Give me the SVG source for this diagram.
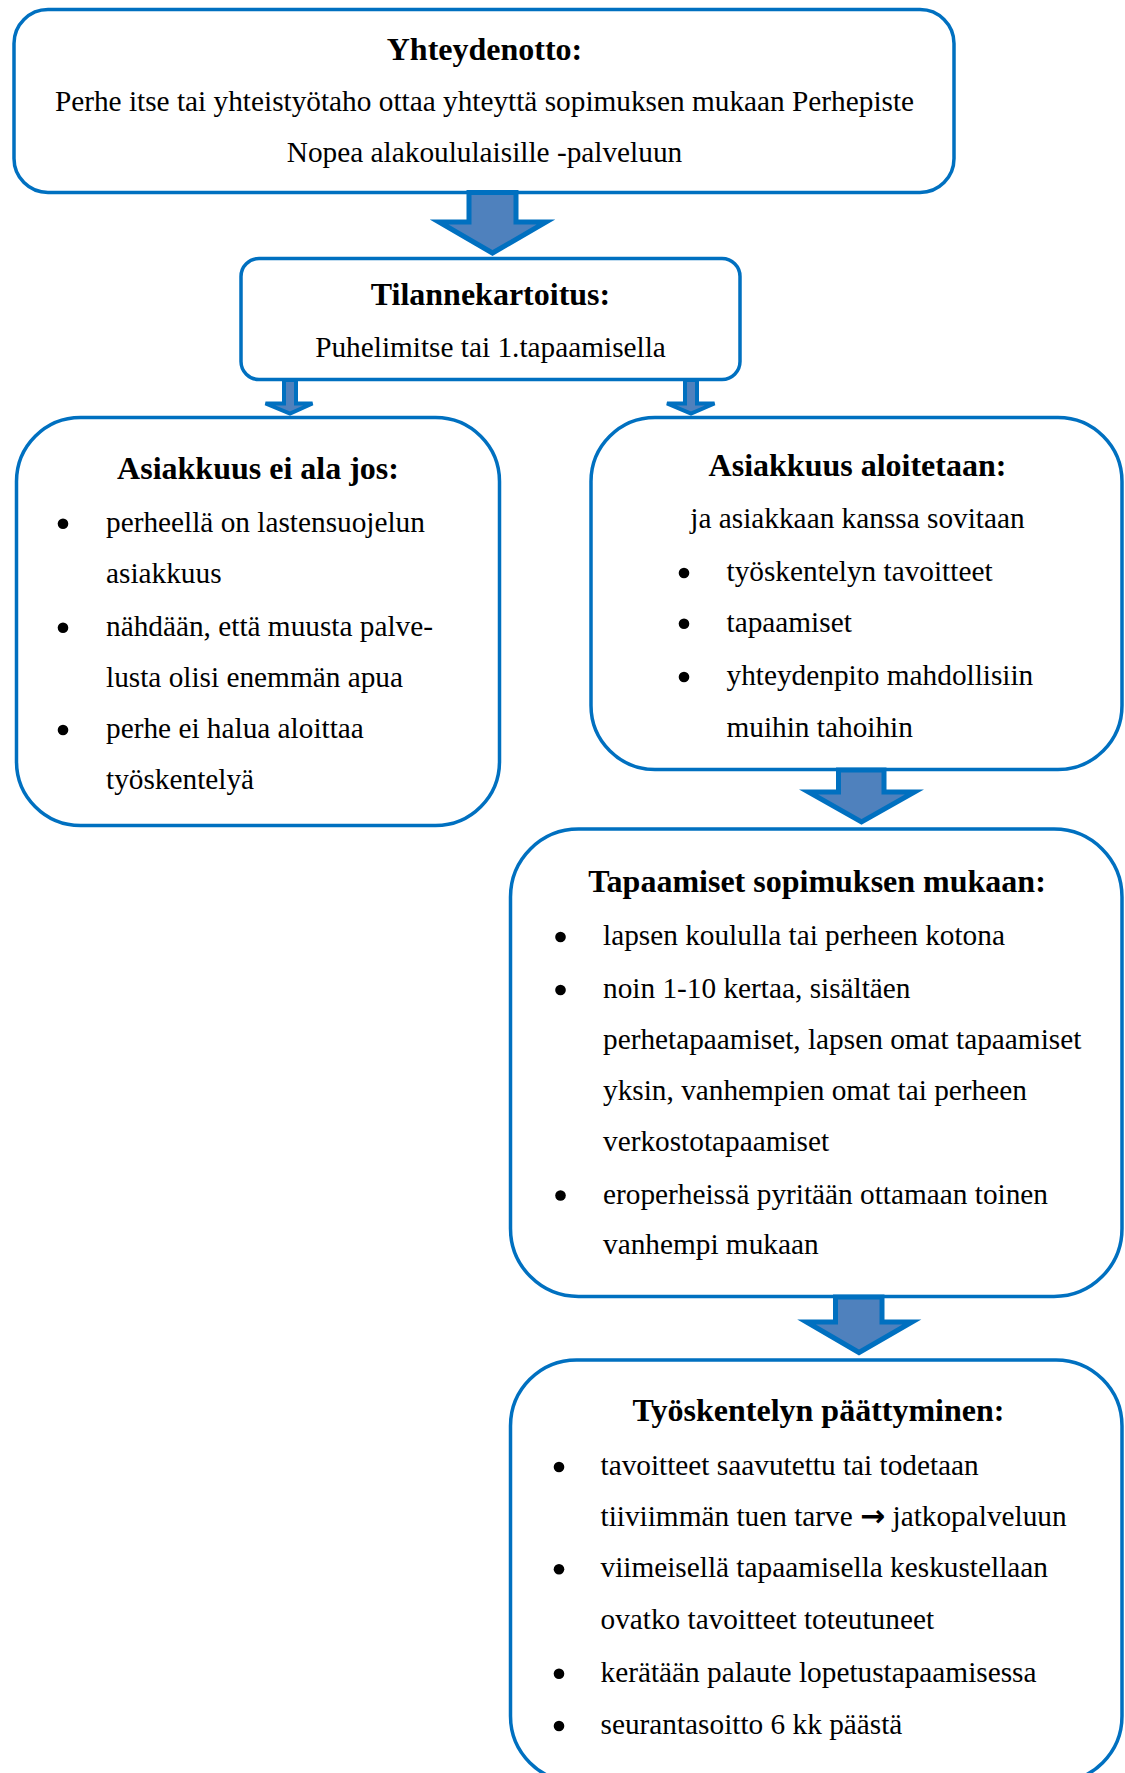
<svg xmlns="http://www.w3.org/2000/svg" width="1125" height="1773" viewBox="0 0 1125 1773">
<style>
.box{fill:#FFFFFF;stroke:#0070C0;stroke-width:3.5}
.t{font-family:"Liberation Serif","Times New Roman",serif;font-size:32px;font-weight:bold;fill:#000;text-anchor:middle}
.b{font-family:"Liberation Serif","Times New Roman",serif;font-size:29.3px;fill:#000}
.c{text-anchor:middle}
.dot{fill:#000}
.arr{fill:#4F81BD;stroke:#0070C0;stroke-width:5;stroke-linejoin:miter}
.arrs{fill:#4F81BD;stroke:#0070C0;stroke-width:4;stroke-linejoin:miter}
</style>
<rect width="1125" height="1773" fill="#FFFFFF"/>

<g id="yhteydenotto">
<rect class="box" x="14" y="9.5" width="940" height="183" rx="34"/>
<text class="t" x="484.5" y="59.5">Yhteydenotto:</text>
<text class="b c" x="484.5" y="110.7">Perhe itse tai yhteistyötaho ottaa yhteyttä sopimuksen mukaan Perhepiste</text>
<text class="b c" x="484.5" y="161.7">Nopea alakoululaisille -palveluun</text>
</g>

<g id="tilannekartoitus">
<rect class="box" x="241" y="258.5" width="499" height="121" rx="18"/>
<text class="t" x="490.5" y="305">Tilannekartoitus:</text>
<text class="b c" x="490.5" y="357.3">Puhelimitse tai 1.tapaamisella</text>
</g>

<g id="asiakkuus-ei-ala">
<rect class="box" x="16.5" y="417.5" width="483" height="408" rx="64"/>
<text class="t" x="258" y="479">Asiakkuus ei ala jos:</text>
<circle class="dot" cx="63" cy="523.7" r="5.3"/>
<text class="b" x="106" y="531.7">perheellä on lastensuojelun</text>
<text class="b" x="106" y="582.7">asiakkuus</text>
<circle class="dot" cx="63" cy="627.7" r="5.3"/>
<text class="b" x="106" y="635.7">nähdään, että muusta palve-</text>
<text class="b" x="106" y="686.7">lusta olisi enemmän apua</text>
<circle class="dot" cx="63" cy="730" r="5.3"/>
<text class="b" x="106" y="738">perhe ei halua aloittaa</text>
<text class="b" x="106" y="789">työskentelyä</text>
</g>

<g id="asiakkuus-aloitetaan">
<rect class="box" x="591" y="417.5" width="531" height="352" rx="64"/>
<text class="t" x="857.5" y="476">Asiakkuus aloitetaan:</text>
<text class="b c" x="857.5" y="527.7">ja asiakkaan kanssa sovitaan</text>
<circle class="dot" cx="684" cy="573" r="5.3"/>
<text class="b" x="726.5" y="581">työskentelyn tavoitteet</text>
<circle class="dot" cx="684" cy="623.7" r="5.3"/>
<text class="b" x="726.5" y="631.7">tapaamiset</text>
<circle class="dot" cx="684" cy="677" r="5.3"/>
<text class="b" x="726.5" y="685">yhteydenpito mahdollisiin</text>
<text class="b" x="726.5" y="736.7">muihin tahoihin</text>
</g>

<g id="tapaamiset">
<rect class="box" x="510.5" y="829" width="611.5" height="467.5" rx="68"/>
<text class="t" x="817" y="892">Tapaamiset sopimuksen mukaan:</text>
<circle class="dot" cx="560.5" cy="937" r="5.3"/>
<text class="b" x="603" y="945">lapsen koululla tai perheen kotona</text>
<circle class="dot" cx="560.5" cy="990" r="5.3"/>
<text class="b" x="603" y="998">noin 1-10 kertaa, sisältäen</text>
<text class="b" x="603" y="1048.8">perhetapaamiset, lapsen omat tapaamiset</text>
<text class="b" x="603" y="1099.8">yksin, vanhempien omat tai perheen</text>
<text class="b" x="603" y="1150.6">verkostotapaamiset</text>
<circle class="dot" cx="560.5" cy="1195.5" r="5.3"/>
<text class="b" x="603" y="1203.5">eroperheissä pyritään ottamaan toinen</text>
<text class="b" x="603" y="1254.4">vanhempi mukaan</text>
</g>

<g id="paattyminen">
<rect class="box" x="510.5" y="1360" width="611.5" height="422" rx="66"/>
<text class="t" x="818.5" y="1420.7">Työskentelyn päättyminen:</text>
<circle class="dot" cx="559" cy="1467" r="5.3"/>
<text class="b" x="600.5" y="1475">tavoitteet saavutettu tai todetaan</text>
<text class="b" x="600.5" y="1526">tiiviimmän tuen tarve <tspan font-family="Noto Sans, DejaVu Sans, sans-serif" font-size="30" font-weight="bold">→</tspan> jatkopalveluun</text>
<circle class="dot" cx="559" cy="1569.3" r="5.3"/>
<text class="b" x="600.5" y="1577.3">viimeisellä tapaamisella keskustellaan</text>
<text class="b" x="600.5" y="1629.3">ovatko tavoitteet toteutuneet</text>
<circle class="dot" cx="559" cy="1673.7" r="5.3"/>
<text class="b" x="600.5" y="1681.7">kerätään palaute lopetustapaamisessa</text>
<circle class="dot" cx="559" cy="1726" r="5.3"/>
<text class="b" x="600.5" y="1734">seurantasoitto 6 kk päästä</text>
</g>

<g id="connectors">
<polygon class="arr" points="469,192.5 516,192.5 516,222 546,222 492.5,253 439,222 469,222"/>
<polygon class="arrs" points="284,380 296,380 296,403.5 312.5,403.5 290,413.5 265.5,403.5 284,403.5"/>
<polygon class="arrs" points="685,380 697,380 697,403.5 714.5,403.5 691,413.5 667,403.5 685,403.5"/>
<polygon class="arr" points="838.5,770 884,770 884,792 914.5,792 861.5,822 808.5,792 838.5,792"/>
<polygon class="arr" points="835.5,1297 882,1297 882,1322 912,1322 859,1352.5 806.5,1322 835.5,1322"/>
</g>
</svg>
